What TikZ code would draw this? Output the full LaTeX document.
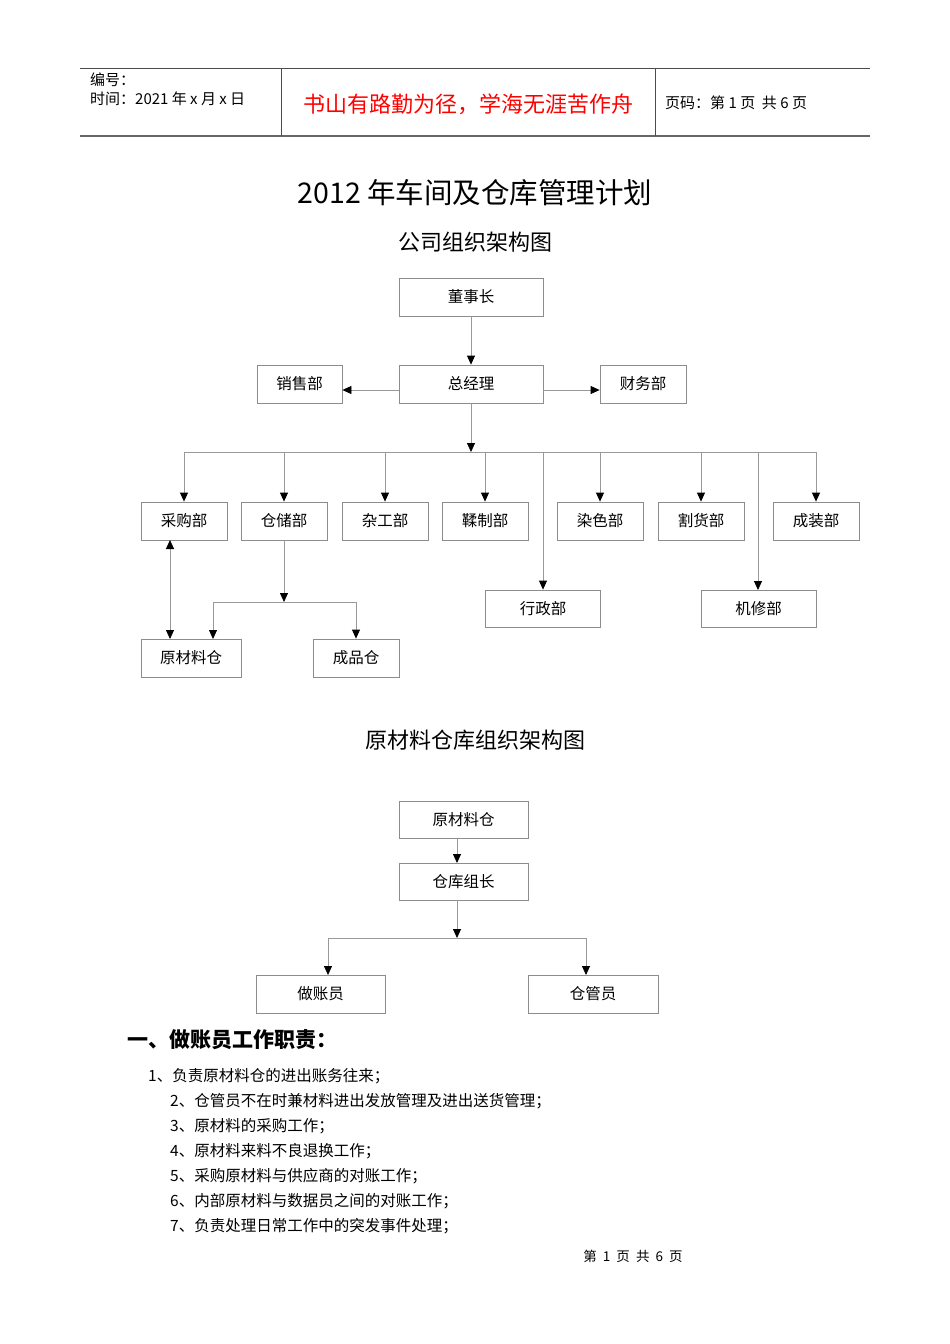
\documentclass[tikz,border=0pt]{standalone}
\usepackage{fontspec}
\setmainfont{Noto Sans CJK SC}
\usetikzlibrary{arrows.meta}
\begin{document}
\begin{tikzpicture}[x=1pt,y=-1pt,
  bx/.style={draw=black!45,line width=0.8pt,minimum height=38pt,inner sep=0pt,font=\fontsize{15.5}{18}\selectfont},
  ln/.style={draw=black!40,line width=0.8pt},
  ar/.style={ln,-{Triangle[length=9pt,width=8pt,black]}},
  da/.style={ln,{Triangle[length=9pt,width=8pt,black]}-{Triangle[length=9pt,width=8pt,black]}},
  tx/.style={inner sep=0pt,anchor=west}]
\useasboundingbox (0,0) rectangle (950,1344);
% header
\draw[black!70,line width=1pt] (80,68)--(870,68);
\draw[black!60,line width=1.5pt] (80,136)--(870,136);
\draw[black!70,line width=1pt] (281,68)--(281,136) (655,68)--(655,136);
\node[tx,font=\fontsize{15}{17}\selectfont] (h1) at (90,80) {编号：};
\node[tx,font=\fontsize{15}{17}\selectfont] (h2) at (90,99) {时间：2021 年 x 月 x 日};
\node[inner sep=0pt,text=red,font=\fontsize{22}{25}\selectfont] (h3) at (468,104) {书山有路勤为径，学海无涯苦作舟};
\node[tx,font=\fontsize{15}{17}\selectfont] (h4) at (665,103) {页码：第 1 页\ \ 共 6 页};
% titles
\node[inner sep=0pt,font=\fontsize{28.5}{32}\selectfont] (t1) at (475,193) {2012 年车间及仓库管理计划};
\node[inner sep=0pt,font=\fontsize{22}{25}\selectfont] (t2) at (475,242) {公司组织架构图};
% chart 1
\node[bx,minimum width=144pt] (dsz) at (471,297) {董事长};
\node[bx,minimum width=144pt] (zjl) at (471,384) {总经理};
\node[bx,minimum width=85pt] (xsb) at (299.5,384) {销售部};
\node[bx,minimum width=86pt] (cwb) at (643,384) {财务部};
\draw[ar] (dsz.south)--(zjl.north);
\draw[ar] (zjl.west|-0,390)--(xsb.east|-0,390);
\draw[ar] (zjl.east|-0,390)--(cwb.west|-0,390);
\coordinate (j) at (471,452);
\draw[ar] (zjl.south)--(j);
\draw[ln] (184,452)--(816,452);
\foreach \n/\t/\x in {cg/采购部/184,cc/仓储部/284,zg/杂工部/385,rz/鞣制部/485,rs/染色部/600,gh/割货部/701,cz/成装部/816}{
  \node[bx,minimum width=86pt] (\n) at (\x,521) {\t};
  \draw[ar] (\x,452)--(\n.north);
}
\node[bx,minimum width=115pt,minimum height=37pt] (xz) at (543,608.5) {行政部};
\node[bx,minimum width=115pt,minimum height=37pt] (jx) at (758.5,608.5) {机修部};
\draw[ar] (543,452)--(xz.north);
\draw[ar] (758,452)--(758,590);
\node[bx,minimum width=100pt] (ycl) at (191,658) {原材料仓};
\node[bx,minimum width=86pt] (cp) at (356,658) {成品仓};
\coordinate (k) at (284,602);
\draw[ar] (cc.south)--(k);
\draw[ln] (213,602)--(356,602);
\draw[ar] (213,602)--(213,639);
\draw[ar] (356,602)--(cp.north);
\draw[da] (170,540)--(170,639);
% chart 2
\node[inner sep=0pt,font=\fontsize{22}{25}\selectfont] (t3) at (475,740) {原材料仓库组织架构图};
\node[bx,minimum width=129pt,minimum height=37pt] (a1) at (463.5,819.5) {原材料仓};
\node[bx,minimum width=129pt,minimum height=37pt] (a2) at (463.5,881.5) {仓库组长};
\node[bx,minimum width=129pt] (a3) at (320.5,994) {做账员};
\node[bx,minimum width=130pt] (a4) at (593,994) {仓管员};
\draw[ar] (457,838)--(457,863);
\coordinate (m) at (457,938);
\draw[ar] (457,900)--(m);
\draw[ln] (328,938)--(586,938);
\draw[ar] (328,938)--(328,975);
\draw[ar] (586,938)--(586,975);
% text
\node[tx,font=\fontsize{21}{24}\selectfont\bfseries] (s1) at (127,1040) {一、做账员工作职责：};
\node[tx,font=\fontsize{15.5}{18}\selectfont] (l1) at (148,1076) {1、负责原材料仓的进出账务往来；};
\foreach \i/\t [count=\c] in {2/仓管员不在时兼材料进出发放管理及进出送货管理；,3/原材料的采购工作；,4/原材料来料不良退换工作；,5/采购原材料与供应商的对账工作；,6/内部原材料与数据员之间的对账工作；,7/负责处理日常工作中的突发事件处理；}{
  \node[tx,font=\fontsize{15.5}{18}\selectfont] (l\i) at (170,1076+25*\c) {\i、\t};
}
\node[inner sep=0pt,font=\fontsize{13.5}{15}\selectfont] (ft) at (633,1256) {第\ \ 1\ \ 页\ \ 共\ \ 6\ \ 页};
\end{tikzpicture}
\end{document}
